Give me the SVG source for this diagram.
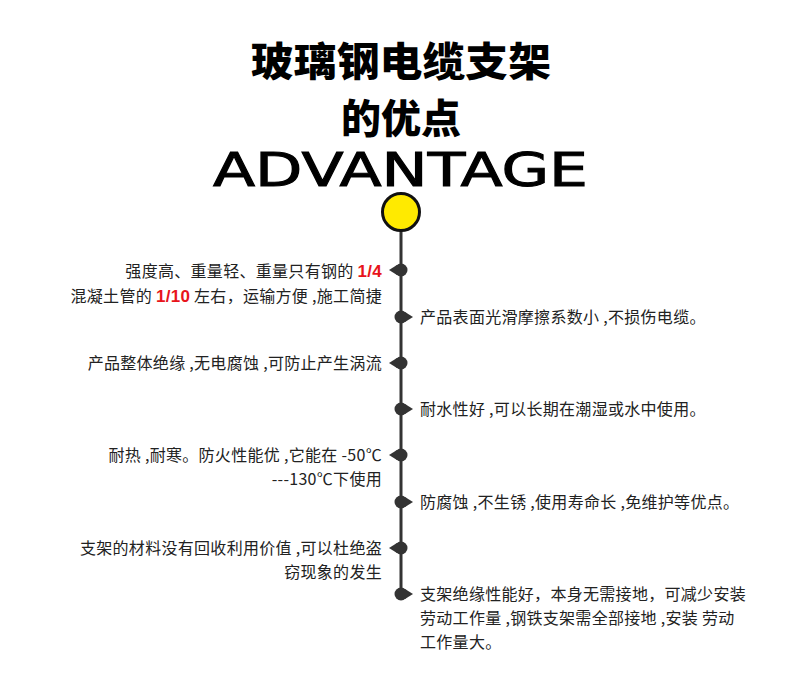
<svg xmlns="http://www.w3.org/2000/svg" width="790" height="682" viewBox="0 0 790 682">
<style>
.t{font-family:"Noto Sans CJK SC","Liberation Sans",sans-serif;font-size:16px;letter-spacing:0.3px;fill:#222}
.l{text-anchor:end}
.r{fill:#e8141b;font-weight:bold;font-family:"Liberation Sans",sans-serif;font-size:17px}
.h{font-family:"Noto Sans CJK SC",sans-serif;font-weight:900;font-size:40px;text-anchor:middle;fill:#000}
</style>
<defs>
<g id="ml"><circle r="6.5" fill="#333"/><path d="M-4-5 L-12 0 L-4 5Z" fill="#333"/></g>
<g id="mr"><circle r="6.5" fill="#333"/><path d="M4-5 L12 0 L4 5Z" fill="#333"/></g>
</defs>
<rect width="790" height="682" fill="#fff"/>
<g id="title">
<text class="h" x="401" y="76" textLength="300" lengthAdjust="spacingAndGlyphs">玻璃钢电缆支架</text>
<text class="h" x="401" y="133">的优点</text>
<text x="213" y="186" textLength="375" lengthAdjust="spacingAndGlyphs" font-family="DejaVu Sans" font-size="46" fill="#000" stroke="#000" stroke-width="1">ADVANTAGE</text>
</g>
<g id="connectors">
<line x1="401" y1="225" x2="401" y2="600" stroke="#333" stroke-width="3"/>
</g>
<g id="top"><circle cx="401" cy="212" r="18.5" fill="#ffea00" stroke="#111" stroke-width="3"/></g>
<g id="n1"><use href="#ml" x="401" y="270"/>
<text class="t l" x="382" y="277">强度高、重量轻、重量只有钢的 <tspan class="r">1/4</tspan></text>
<text class="t l" x="382" y="302">混凝土管的 <tspan class="r">1/10</tspan> 左右，运输方便 ,施工简捷</text></g>
<g id="n2"><use href="#mr" x="401" y="317"/><text class="t" x="420" y="323">产品表面光滑摩擦系数小 ,不损伤电缆。</text></g>
<g id="n3"><use href="#ml" x="401" y="363"/><text class="t l" x="382" y="369">产品整体绝缘 ,无电腐蚀 ,可防止产生涡流</text></g>
<g id="n4"><use href="#mr" x="401" y="409"/><text class="t" x="420" y="415">耐水性好 ,可以长期在潮湿或水中使用。</text></g>
<g id="n5"><use href="#ml" x="401" y="455"/>
<text class="t l" x="382" y="461">耐热 ,耐寒。防火性能优 ,它能在 -50℃</text>
<text class="t l" x="382" y="485">---130℃下使用</text></g>
<g id="n6"><use href="#mr" x="401" y="502"/><text class="t" x="420" y="508">防腐蚀 ,不生锈 ,使用寿命长 ,免维护等优点。</text></g>
<g id="n7"><use href="#ml" x="401" y="548"/>
<text class="t l" x="382" y="554">支架的材料没有回收利用价值 ,可以杜绝盗</text>
<text class="t l" x="382" y="578">窃现象的发生</text></g>
<g id="n8"><use href="#mr" x="401" y="594"/>
<text class="t" x="420" y="600">支架绝缘性能好，本身无需接地，可减少安装</text>
<text class="t" x="420" y="624">劳动工作量 ,钢铁支架需全部接地 ,安装 劳动</text>
<text class="t" x="420" y="648">工作量大。</text></g>
</svg>
